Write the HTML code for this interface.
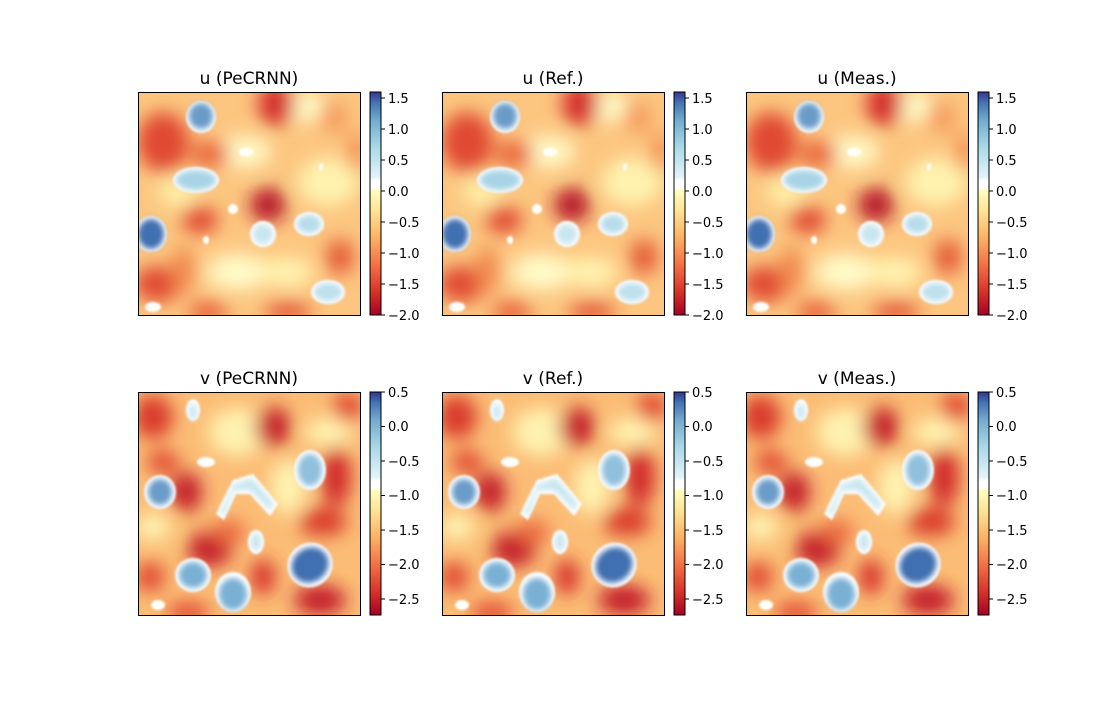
<!DOCTYPE html>
<html><head><meta charset="utf-8"><style>
html,body{margin:0;padding:0;background:#fff;}
svg text{font-family:"DejaVu Sans","Liberation Sans",sans-serif;}
</style></head><body>
<svg width="1100" height="700" viewBox="0 0 1100 700" xmlns="http://www.w3.org/2000/svg">
<defs>
<filter id="b1" x="-50%" y="-50%" width="200%" height="200%"><feGaussianBlur stdDeviation="9"/></filter>
<filter id="b2" x="-50%" y="-50%" width="200%" height="200%"><feGaussianBlur stdDeviation="3"/></filter>
<filter id="b3" x="-50%" y="-50%" width="200%" height="200%"><feGaussianBlur stdDeviation="1"/></filter>
<linearGradient id="cb" x1="0" y1="1" x2="0" y2="0">
<stop offset="0" stop-color="#a50026"/><stop offset="0.1" stop-color="#d73027"/>
<stop offset="0.22" stop-color="#f46d43"/><stop offset="0.34" stop-color="#fdae61"/>
<stop offset="0.46" stop-color="#fee090"/><stop offset="0.56" stop-color="#ffffbf"/>
<stop offset="0.57" stop-color="#ffffff"/><stop offset="0.6" stop-color="#ffffff"/>
<stop offset="0.62" stop-color="#e0f3f8"/><stop offset="0.75" stop-color="#abd9e9"/>
<stop offset="0.87" stop-color="#74add1"/><stop offset="0.95" stop-color="#4575b4"/>
<stop offset="1" stop-color="#313695"/></linearGradient>
<g id="U">
<rect x="0" y="0" width="222" height="223" fill="#fcc680"/>
<g filter="url(#b1)">
<ellipse cx="170" cy="15" rx="18" ry="15" fill="#fffbc8"/>
<ellipse cx="105" cy="60" rx="28" ry="16" fill="#fffbc8"/>
<ellipse cx="100" cy="180" rx="32" ry="18" fill="#fffbc8"/>
<ellipse cx="190" cy="90" rx="30" ry="24" fill="#fff3b0"/>
<ellipse cx="150" cy="180" rx="25" ry="15" fill="#fff3b0"/>
<ellipse cx="40" cy="100" rx="20" ry="14" fill="#fff0a8"/>
<ellipse cx="138" cy="12" rx="18" ry="22" fill="#d42f2b"/>
<ellipse cx="25" cy="50" rx="26" ry="30" fill="#e04a30"/>
<ellipse cx="130" cy="113" rx="18" ry="17" fill="#b5182a"/>
<ellipse cx="72" cy="62" rx="20" ry="14" fill="#ea6a40"/>
<ellipse cx="20" cy="192" rx="24" ry="18" fill="#e04a30"/>
<ellipse cx="62" cy="128" rx="18" ry="14" fill="#e04a30"/>
<ellipse cx="150" cy="220" rx="24" ry="10" fill="#e55b38"/>
<ellipse cx="70" cy="220" rx="20" ry="10" fill="#e55b38"/>
<ellipse cx="202" cy="165" rx="14" ry="18" fill="#e55b38"/>
<ellipse cx="195" cy="25" rx="14" ry="15" fill="#f49a5a"/>
<ellipse cx="45" cy="178" rx="12" ry="24" fill="#f08a50"/>
<ellipse cx="218" cy="60" rx="8" ry="20" fill="#f08a50"/>
</g>
<g filter="url(#b3)" fill="#fff">
<ellipse cx="63" cy="25" rx="15" ry="16"/><ellipse cx="58" cy="88" rx="23" ry="13"/>
<ellipse cx="13" cy="142" rx="16" ry="18"/><ellipse cx="125" cy="142" rx="13" ry="13"/>
<ellipse cx="171" cy="132" rx="15" ry="12"/><ellipse cx="190" cy="200" rx="17" ry="12"/>
<ellipse cx="108" cy="60" rx="7" ry="4"/><ellipse cx="95" cy="117" rx="5" ry="5"/>
<ellipse cx="68" cy="148" rx="3" ry="4"/><ellipse cx="15" cy="215" rx="8" ry="5"/>
<ellipse cx="183" cy="75" rx="2" ry="4"/>
</g>
<g filter="url(#b2)">
<ellipse cx="63" cy="24" rx="12" ry="13" fill="#6a9cc9"/>
<ellipse cx="58" cy="88" rx="20" ry="10" fill="#a9d4e6"/>
<ellipse cx="13" cy="142" rx="13" ry="15" fill="#3f6fb0"/>
<ellipse cx="125" cy="142" rx="10" ry="10" fill="#c8e6f0"/>
<ellipse cx="171" cy="132" rx="12" ry="9" fill="#b7dcea"/>
<ellipse cx="190" cy="200" rx="14" ry="9" fill="#bfe0ec"/>
</g>
</g>
<g id="V">
<rect x="0" y="0" width="222" height="223" fill="#fbbd76"/>
<g filter="url(#b1)">
<ellipse cx="100" cy="40" rx="30" ry="24" fill="#fff3b0"/>
<ellipse cx="15" cy="135" rx="18" ry="14" fill="#fff3b0"/>
<ellipse cx="190" cy="40" rx="24" ry="14" fill="#fff3b0"/>
<ellipse cx="150" cy="95" rx="18" ry="28" fill="#fff3b0"/>
<ellipse cx="15" cy="25" rx="20" ry="22" fill="#d83a2c"/>
<ellipse cx="135" cy="35" rx="18" ry="20" fill="#c52229"/>
<ellipse cx="25" cy="70" rx="16" ry="12" fill="#e04a30"/>
<ellipse cx="48" cy="100" rx="16" ry="20" fill="#c21f29"/>
<ellipse cx="72" cy="157" rx="22" ry="18" fill="#c21f29"/>
<ellipse cx="125" cy="185" rx="12" ry="18" fill="#d42f2b"/>
<ellipse cx="198" cy="85" rx="15" ry="30" fill="#d02a2a"/>
<ellipse cx="185" cy="130" rx="24" ry="14" fill="#d83a2c"/>
<ellipse cx="182" cy="208" rx="26" ry="15" fill="#c21f29"/>
<ellipse cx="12" cy="185" rx="15" ry="15" fill="#e04a30"/>
<ellipse cx="50" cy="220" rx="22" ry="10" fill="#e04a30"/>
<ellipse cx="210" cy="15" rx="15" ry="15" fill="#e04a30"/>
<ellipse cx="90" cy="140" rx="18" ry="12" fill="#ea6a40"/>
</g>
<g filter="url(#b3)" fill="#fff">
<ellipse cx="22" cy="100" rx="16" ry="17"/><ellipse cx="55" cy="183" rx="18" ry="17"/>
<ellipse cx="95" cy="200" rx="18" ry="20"/><ellipse cx="172" cy="78" rx="16" ry="20"/>
<ellipse cx="172" cy="173" rx="23" ry="22" transform="rotate(-35 172 173)"/>
<ellipse cx="68" cy="70" rx="9" ry="5"/><ellipse cx="118" cy="150" rx="8" ry="12"/>
<ellipse cx="55" cy="18" rx="7" ry="11"/><ellipse cx="20" cy="213" rx="7" ry="5"/>
<path d="M78 122 L95 88 L115 82 L140 112 L132 124 L112 102 L98 102 L86 128 Z"/>
</g>
<g filter="url(#b2)">
<ellipse cx="22" cy="100" rx="12" ry="13" fill="#6a9cc9"/>
<ellipse cx="55" cy="183" rx="14" ry="13" fill="#7ab0d4"/>
<ellipse cx="95" cy="202" rx="14" ry="16" fill="#7ab0d4"/>
<ellipse cx="172" cy="78" rx="12" ry="16" fill="#8fc0dc"/>
<ellipse cx="172" cy="173" rx="19" ry="17" transform="rotate(-35 172 173)" fill="#3f6fb0"/>
<ellipse cx="118" cy="150" rx="5" ry="9" fill="#c8e6f0"/>
<ellipse cx="55" cy="20" rx="4" ry="8" fill="#c8e6f0"/>
<path d="M82 120 L96 92 L114 86 L136 112 L132 118 L112 98 L96 98 L86 124 Z" fill="#c8e6f0"/>
</g>
</g>
</defs>

<g font-size="17" text-anchor="middle" fill="#000">
<text x="249" y="84">u (PeCRNN)</text><text x="553" y="84">u (Ref.)</text><text x="857" y="84">u (Meas.)</text>
<text x="249" y="384">v (PeCRNN)</text><text x="553" y="384">v (Ref.)</text><text x="857" y="384">v (Meas.)</text>
</g>

<svg x="138" y="92" width="222" height="223"><use href="#U"/></svg>
<svg x="442" y="92" width="222" height="223"><use href="#U"/></svg>
<svg x="746" y="92" width="222" height="223"><use href="#U"/></svg>
<svg x="138" y="392" width="222" height="223"><use href="#V"/></svg>
<svg x="442" y="392" width="222" height="223"><use href="#V"/></svg>
<svg x="746" y="392" width="222" height="223"><use href="#V"/></svg>
<g fill="none" stroke="#000" stroke-width="1">
<rect x="138.5" y="92.5" width="222" height="223"/><rect x="442.5" y="92.5" width="222" height="223"/><rect x="746.5" y="92.5" width="222" height="223"/>
<rect x="138.5" y="392.5" width="222" height="223"/><rect x="442.5" y="392.5" width="222" height="223"/><rect x="746.5" y="392.5" width="222" height="223"/>
</g>

<g id="cbu">
<rect x="370" y="92" width="11" height="223" fill="url(#cb)" stroke="#000" stroke-width="1"/>
<g stroke="#000"><line x1="381" x2="385" y1="98" y2="98"/><line x1="381" x2="385" y1="129" y2="129"/><line x1="381" x2="385" y1="160" y2="160"/><line x1="381" x2="385" y1="191" y2="191"/><line x1="381" x2="385" y1="222" y2="222"/><line x1="381" x2="385" y1="253" y2="253"/><line x1="381" x2="385" y1="284" y2="284"/><line x1="381" x2="385" y1="315" y2="315"/></g>
<g font-size="13" fill="#000"><text x="388" y="103">1.5</text><text x="388" y="134">1.0</text><text x="388" y="165">0.5</text><text x="388" y="196">0.0</text><text x="388" y="227">−0.5</text><text x="388" y="258">−1.0</text><text x="388" y="289">−1.5</text><text x="388" y="320">−2.0</text></g>
</g>
<use href="#cbu" x="304"/><use href="#cbu" x="608"/>

<g id="cbv">
<rect x="370" y="392" width="11" height="223" fill="url(#cb)" stroke="#000" stroke-width="1"/>
<g stroke="#000"><line x1="381" x2="385" y1="392" y2="392"/><line x1="381" x2="385" y1="426.5" y2="426.5"/><line x1="381" x2="385" y1="461" y2="461"/><line x1="381" x2="385" y1="495.5" y2="495.5"/><line x1="381" x2="385" y1="530" y2="530"/><line x1="381" x2="385" y1="564.5" y2="564.5"/><line x1="381" x2="385" y1="599" y2="599"/></g>
<g font-size="13" fill="#000"><text x="388" y="397">0.5</text><text x="388" y="431">0.0</text><text x="388" y="466">−0.5</text><text x="388" y="500">−1.0</text><text x="388" y="535">−1.5</text><text x="388" y="569">−2.0</text><text x="388" y="604">−2.5</text></g>
</g>
<use href="#cbv" x="304"/><use href="#cbv" x="608"/>
</svg>
</body></html>
